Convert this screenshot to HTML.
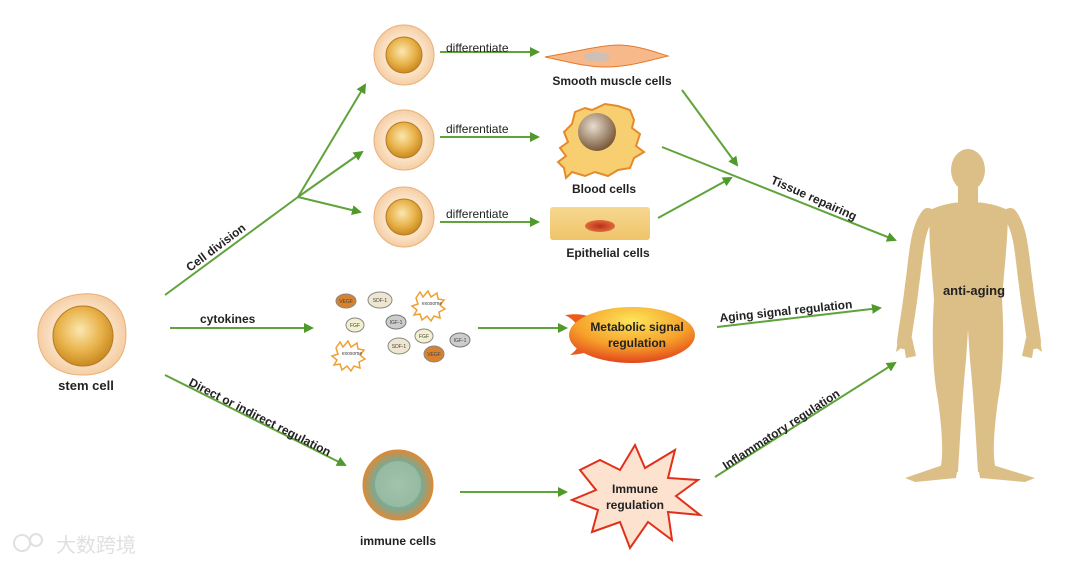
<!DOCTYPE html>
<html><head><meta charset="utf-8"><style>
body{margin:0;background:#fff;}
svg{display:block;font-family:"Liberation Sans",Arial,sans-serif;}
</style></head><body>
<svg width="1080" height="565" viewBox="0 0 1080 565" xmlns="http://www.w3.org/2000/svg">
<defs>
<radialGradient id="core" cx="45%" cy="40%" r="60%"><stop offset="0" stop-color="#fbe7b0"/><stop offset="0.6" stop-color="#e8b24a"/><stop offset="1" stop-color="#c98a22"/></radialGradient>
<radialGradient id="blob" cx="50%" cy="50%" r="55%"><stop offset="0.6" stop-color="#fbe2c6"/><stop offset="1" stop-color="#f3c89a"/></radialGradient>
<radialGradient id="meta" cx="50%" cy="25%" r="75%"><stop offset="0" stop-color="#fde65a"/><stop offset="0.6" stop-color="#f6a02a"/><stop offset="1" stop-color="#e2461c"/></radialGradient>
<radialGradient id="bloodn" cx="40%" cy="35%" r="65%"><stop offset="0" stop-color="#e8ddd0"/><stop offset="1" stop-color="#7a5a3a"/></radialGradient>
<radialGradient id="imm" cx="50%" cy="50%" r="50%"><stop offset="0" stop-color="#a8c8b4"/><stop offset="0.7" stop-color="#7ea890"/><stop offset="1" stop-color="#d98b3a"/></radialGradient>
<linearGradient id="epi" x1="0" y1="0" x2="0" y2="1"><stop offset="0" stop-color="#f6d890"/><stop offset="1" stop-color="#efc46a"/></linearGradient>
<radialGradient id="epin" cx="50%" cy="50%" r="50%"><stop offset="0" stop-color="#b8301a"/><stop offset="1" stop-color="#e26a3a"/></radialGradient>
<marker id="ah" markerWidth="10" markerHeight="10" refX="8" refY="5" orient="auto" markerUnits="userSpaceOnUse"><path d="M0,0 L10,5 L0,10 z" fill="#4f9a2a"/></marker>
</defs>
<g stroke="#5fa33a" stroke-width="2" fill="none">
<path d="M165,295 L298,197"/>
<path d="M298,197 L365,85" marker-end="url(#ah)"/>
<path d="M298,197 L362,152" marker-end="url(#ah)"/>
<path d="M298,197 L360,212" marker-end="url(#ah)"/>
<path d="M440,52 L538,52" marker-end="url(#ah)"/>
<path d="M440,137 L538,137" marker-end="url(#ah)"/>
<path d="M440,222 L538,222" marker-end="url(#ah)"/>
<path d="M682,90 L737,165" marker-end="url(#ah)"/>
<path d="M662,147 L895,240" marker-end="url(#ah)"/>
<path d="M658,218 L731,178" marker-end="url(#ah)"/>
<path d="M170,328 L312,328" marker-end="url(#ah)"/>
<path d="M478,328 L566,328" marker-end="url(#ah)"/>
<path d="M717,327 L880,308" marker-end="url(#ah)"/>
<path d="M165,375 L345,465" marker-end="url(#ah)"/>
<path d="M460,492 L566,492" marker-end="url(#ah)"/>
<path d="M715,477 L895,363" marker-end="url(#ah)"/>
</g>
<!-- stem cell -->
<path d="M82,294 C108,292 126,306 126,334 C126,362 108,374 86,375 C60,376 40,364 38,338 C36,312 56,296 82,294z" fill="url(#blob)" stroke="#e8b07a"/>
<circle cx="83" cy="336" r="30" fill="url(#core)" stroke="#b87a20"/>
<text x="86" y="390" font-size="13" font-weight="bold" text-anchor="middle" fill="#222">stem cell</text>
<g>
<ellipse cx="404" cy="55" rx="30" ry="30" fill="url(#blob)" stroke="#e8b07a"/><circle cx="404" cy="55" r="18" fill="url(#core)" stroke="#b87a20"/>
<ellipse cx="404" cy="140" rx="30" ry="30" fill="url(#blob)" stroke="#e8b07a"/><circle cx="404" cy="140" r="18" fill="url(#core)" stroke="#b87a20"/>
<ellipse cx="404" cy="217" rx="30" ry="30" fill="url(#blob)" stroke="#e8b07a"/><circle cx="404" cy="217" r="18" fill="url(#core)" stroke="#b87a20"/>
</g>
<g font-size="12" fill="#222"><text x="446" y="52">differentiate</text><text x="446" y="133">differentiate</text><text x="446" y="218">differentiate</text></g>
<!-- smooth muscle -->
<path d="M545,57 C575,52 600,45 620,45 C640,46 655,52 668,56 C650,60 630,67 605,67 C585,67 565,61 545,57z" fill="#f7b88a" stroke="#e57a2a"/>
<ellipse cx="597" cy="57" rx="13" ry="5" fill="#cfc0b6"/>
<text x="612" y="85" font-size="12" font-weight="bold" text-anchor="middle" fill="#222">Smooth muscle cells</text>
<!-- blood -->
<path d="M575,112 L585,108 L592,110 L605,104 L618,106 L630,110 L634,120 L632,128 L640,134 L636,146 L644,152 L634,158 L630,168 L618,170 L608,176 L595,172 L585,176 L572,172 L566,178 L564,168 L558,162 L566,156 L560,148 L568,142 L564,132 L572,124z" fill="#f8cf70" stroke="#e58a2a" stroke-width="2"/>
<circle cx="597" cy="132" r="19" fill="url(#bloodn)"/>
<text x="604" y="193" font-size="12" font-weight="bold" text-anchor="middle" fill="#222">Blood  cells</text>
<!-- epithelial -->
<rect x="550" y="207" width="100" height="33" rx="3" fill="url(#epi)"/>
<ellipse cx="600" cy="226" rx="15" ry="6" fill="url(#epin)"/>
<text x="608" y="257" font-size="12" font-weight="bold" text-anchor="middle" fill="#222">Epithelial cells</text>
<g font-size="5" text-anchor="middle" fill="#444">
<ellipse cx="346" cy="301" rx="10" ry="7" fill="#d9822e" stroke="#888"/><text x="346" y="303">VEGF</text>
<ellipse cx="380" cy="300" rx="12" ry="8" fill="#efe6d0" stroke="#888"/><text x="380" y="302">SDF-1</text>
<path d="M416,298 l4,-6 3,5 5,-6 3,6 6,-4 1,6 6,1 -4,5 5,4 -6,3 1,6 -6,-2 -3,5 -4,-5 -5,4 -2,-6 -6,1 3,-5 -5,-4 6,-2z" fill="#fff" stroke="#f0a030" stroke-width="1.5"/><text x="432" y="305">exosome</text>
<ellipse cx="355" cy="325" rx="9" ry="7" fill="#f2f0d0" stroke="#888"/><text x="355" y="327">FGF</text>
<ellipse cx="396" cy="322" rx="10" ry="7" fill="#ccc" stroke="#777"/><text x="396" y="324">IGF-1</text>
<ellipse cx="424" cy="336" rx="9" ry="7" fill="#f2f0d0" stroke="#888"/><text x="424" y="338">FGF</text>
<ellipse cx="460" cy="340" rx="10" ry="7" fill="#ccc" stroke="#777"/><text x="460" y="342">IGF-1</text>
<ellipse cx="399" cy="346" rx="11" ry="8" fill="#efe6d0" stroke="#888"/><text x="399" y="348">SDF-1</text>
<ellipse cx="434" cy="354" rx="10" ry="8" fill="#d9822e" stroke="#888"/><text x="434" y="356">VEGF</text>
<path d="M336,348 l4,-6 3,5 5,-6 3,6 6,-4 1,6 6,1 -4,5 5,4 -6,3 1,6 -6,-2 -3,5 -4,-5 -5,4 -2,-6 -6,1 3,-5 -5,-4 6,-2z" fill="#fff" stroke="#f0a030" stroke-width="1.5"/><text x="352" y="355">exosome</text>
</g>
<text x="200" y="323" font-size="12" font-weight="bold" fill="#222">cytokines</text>
<path d="M565,315 C585,312 595,318 605,325 L605,345 C595,350 585,354 570,355 C585,345 585,325 565,315z" fill="#ec5a1e"/>
<ellipse cx="632" cy="335" rx="63" ry="28" fill="url(#meta)"/>
<text x="637" y="331" font-size="12" font-weight="bold" text-anchor="middle" fill="#222">Metabolic signal</text>
<text x="637" y="347" font-size="12" font-weight="bold" text-anchor="middle" fill="#222">regulation</text>
<circle cx="398" cy="485" r="35" fill="url(#imm)" stroke="#d98b3a"/>
<circle cx="398" cy="484" r="23" fill="#9fc0a8" opacity="0.7"/>
<text x="398" y="545" font-size="12" font-weight="bold" text-anchor="middle" fill="#222">immune cells</text>
<path d="M600,460 L620,470 L635,445 L645,468 L675,450 L668,478 L698,480 L676,496 L700,515 L668,512 L672,540 L648,522 L630,548 L620,522 L592,532 L598,510 L572,500 L596,490 L580,470z" fill="#fde2d0" stroke="#e0301a" stroke-width="2"/>
<text x="635" y="493" font-size="12" font-weight="bold" text-anchor="middle" fill="#222">Immune</text>
<text x="635" y="509" font-size="12" font-weight="bold" text-anchor="middle" fill="#222">regulation</text>
<g font-size="12" font-weight="bold" fill="#222">
<text transform="translate(190,272) rotate(-37)">Cell division</text>
<text transform="translate(188,385) rotate(27)">Direct or indirect regulation</text>
<text transform="translate(770,183) rotate(24)">Tissue repairing</text>
<text transform="translate(720,322) rotate(-6)">Aging signal regulation</text>
<text transform="translate(726,470) rotate(-33)">Inflammatory regulation</text>
</g>
<!-- human -->
<g fill="#dcbf87" stroke="#dcbf87">
<ellipse cx="968" cy="170" rx="17" ry="21" stroke="none"/>
<rect x="958" y="185" width="20" height="22" stroke="none"/>
<path d="M930,210 C945,203 958,202 968,202 C980,202 992,203 1008,210 C1008,240 1004,270 1002,300 C1004,330 1004,370 998,400 C994,430 992,455 996,470 L978,472 C976,440 974,400 970,360 L968,330 L966,360 C962,400 960,440 958,472 L940,470 C944,455 942,430 938,400 C932,370 932,330 934,300 C932,270 928,240 930,210z" stroke="none"/>
<path d="M928,215 C916,230 916,260 912,285 C910,305 906,325 904,342" fill="none" stroke-width="14" stroke-linecap="round"/>
<path d="M1010,215 C1022,230 1022,260 1026,285 C1028,305 1032,325 1034,342" fill="none" stroke-width="14" stroke-linecap="round"/>
<path d="M898,340 L912,338 L916,356 L906,358 L904,346 L896,352z" stroke="none"/>
<path d="M1040,340 L1026,338 L1022,356 L1032,358 L1034,346 L1042,352z" stroke="none"/>
<path d="M940,466 L905,478 L915,482 L956,478 L958,466z" stroke="none"/>
<path d="M996,466 L1035,478 L1025,482 L980,478 L978,466z" stroke="none"/>
</g>
<text x="974" y="295" font-size="13" font-weight="bold" text-anchor="middle" fill="#222">anti-aging</text>
<g opacity="0.9"><circle cx="22" cy="543" r="8" fill="none" stroke="#ddd" stroke-width="2"/><circle cx="36" cy="540" r="6" fill="none" stroke="#ddd" stroke-width="2"/>
<text x="56" y="552" font-size="20" font-family="'Liberation Sans','Noto Sans CJK SC',sans-serif" fill="#ddd">大数跨境</text></g>
</svg>
</body></html>
